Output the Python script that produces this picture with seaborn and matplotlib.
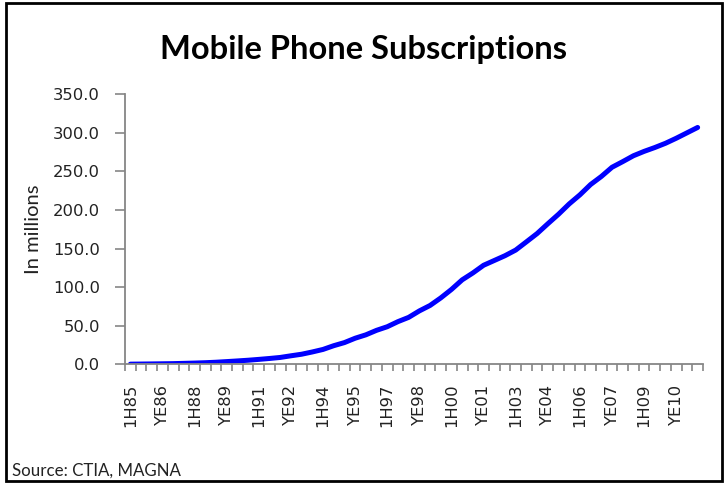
import numpy as np
import pandas as pd
import matplotlib
matplotlib.use("Agg")
import matplotlib.pyplot as plt
from matplotlib.ticker import FormatStrFormatter, FixedLocator
from matplotlib.patches import Rectangle
import seaborn as sns

periods = ["1H85", "YE85", "1H86", "YE86", "1H87", "YE87", "1H88", "YE88", "1H89", "YE89",
           "1H90", "YE90", "1H91", "YE91", "1H92", "YE92", "1H93", "YE93", "1H94", "YE94",
           "1H95", "YE95", "1H96", "YE96", "1H97", "YE97", "1H98", "YE98", "1H99", "YE99",
           "1H00", "YE00", "1H01", "YE01", "1H02", "YE02", "1H03", "YE03", "1H04", "YE04",
           "1H05", "YE05", "1H06", "YE06", "1H07", "YE07", "1H08", "YE08", "1H09", "YE09",
           "1H10", "YE10", "1H11", "YE11"]
subscriptions = [0.2, 0.34, 0.5, 0.68, 0.88, 1.23, 1.61, 2.07, 2.69, 3.51,
                 4.37, 5.28, 6.38, 7.56, 8.89, 11.03, 13.07, 16.01, 19.28, 24.13,
                 28.15, 33.79, 38.20, 44.04, 48.71, 55.31, 60.83, 69.21, 76.28, 86.05,
                 97.04, 109.48, 118.40, 128.37, 134.56, 140.77, 148.07, 158.72, 169.47, 182.14,
                 194.48, 207.90, 219.65, 233.04, 243.43, 255.40, 262.70, 270.33, 276.0, 281.0,
                 286.5, 293.0, 300.0, 307.0]
shown_labels = ["1H85", "YE86", "1H88", "YE89", "1H91", "YE92", "1H94", "YE95", "1H97",
                "YE98", "1H00", "YE01", "1H03", "YE04", "1H06", "YE07", "1H09", "YE10"]
y_ticks = [0, 50, 100, 150, 200, 250, 300, 350]

df = pd.DataFrame({"pos": np.arange(len(periods)), "period": periods, "value": subscriptions})

sns.set_theme(style="white")
plt.rcParams["font.family"] = ["DejaVu Sans"]

fig = plt.figure(figsize=(7.26, 4.84), dpi=100)
ax = fig.add_axes([0.1722, 0.2473, 0.7961, 0.5579])

sns.lineplot(data=df, x="pos", y="value", ax=ax, color="#0000FF", linewidth=3.6, sort=False)

ax.set_xlim(-0.5, len(periods) - 0.5)
ax.set_ylim(0, 350)

spine_col = "#868686"
for s in ["top", "right"]:
    ax.spines[s].set_visible(False)
for s in ["left", "bottom"]:
    ax.spines[s].set_color(spine_col)
    ax.spines[s].set_linewidth(1.3)

ax.set_yticks(y_ticks)
ax.yaxis.set_major_formatter(FormatStrFormatter("%.1f"))
ax.tick_params(axis="y", direction="out", length=7, width=1.2, color=spine_col,
               labelsize=11.8, labelcolor="#222222", pad=11, left=True)

label_pos = [periods.index(l) for l in shown_labels]
ax.xaxis.set_major_locator(FixedLocator(label_pos))
ax.set_xticklabels(shown_labels, rotation=90)
ax.xaxis.set_minor_locator(FixedLocator(np.arange(-0.5, len(periods), 1.0)))
ax.tick_params(axis="x", which="major", length=0, labelsize=11.8, labelcolor="#222222", pad=14)
ax.tick_params(axis="x", which="minor", direction="out", length=5, width=1.2,
               color=spine_col, bottom=True)

ax.set_xlabel("")
ax.set_ylabel("In millions", fontsize=14.5, family=["Lato", "DejaVu Sans"], color="#222222", labelpad=8)
ax.grid(False)

fig.text(0.5, 0.898, "Mobile Phone Subscriptions", ha="center", va="center",
         fontsize=23.5, fontweight="bold", family=["Lato", "DejaVu Sans"], color="#000000")
fig.text(0.017, 0.027, "Source: CTIA, MAGNA", ha="left", va="center",
         fontsize=12.2, family=["Lato", "DejaVu Sans"], color="#222222")

fig.patches.append(Rectangle((0.008, 0.006), 0.986, 0.988, transform=fig.transFigure,
                             fill=False, edgecolor="black", linewidth=2))

fig.savefig("out.png", dpi=100)
